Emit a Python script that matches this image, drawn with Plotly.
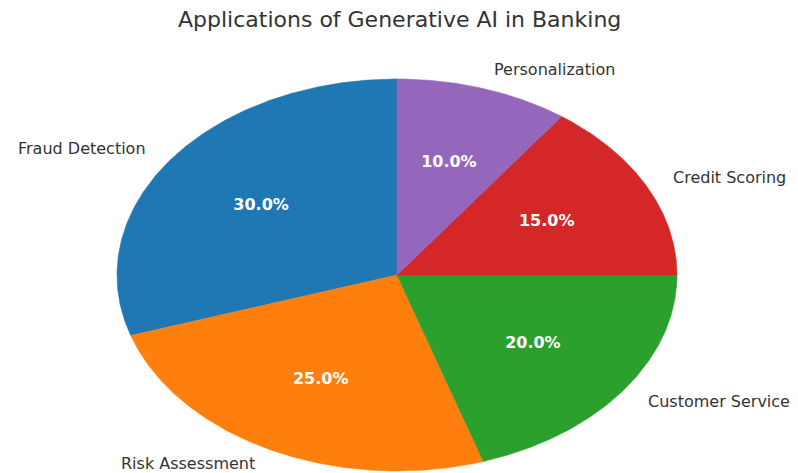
import numpy as np
import plotly.graph_objects as go

labels = ["Fraud Detection", "Risk Assessment", "Customer Service", "Credit Scoring", "Personalization"]
sizes = [30, 25, 20, 15, 10]
colors = ["#1f77b4", "#ff7f0e", "#2ca02c", "#d62728", "#9467bd"]
title = "Applications of Generative AI in Banking"

W, H = 798, 473
cx, cy, rx, ry = 397, 275, 280, 196  # pixel placement of the pie ellipse
LAB_SIZE = 16

fig = go.Figure()
total = float(sum(sizes))
theta0 = 90.0
annos = []
pct_x, pct_y, pct_t = [], [], []
for lab, val, col in zip(labels, sizes, colors):
    theta1 = theta0 + 360.0 * val / total
    t = np.radians(np.linspace(theta0, theta1, 200))
    xs = np.concatenate([[0], np.cos(t), [0]])
    ys = np.concatenate([[0], np.sin(t), [0]])
    fig.add_trace(go.Scatter(x=xs, y=ys, fill="toself", fillcolor=col,
                             line=dict(width=0.6, color=col), mode="lines",
                             hoverinfo="skip", showlegend=False))
    mid = np.radians((theta0 + theta1) / 2)
    lx, ly = 1.1 * np.cos(mid), 1.1 * np.sin(mid)
    # keep the label box inside the page
    py = cy - ly * ry
    overflow = (py + LAB_SIZE * 0.62) - H
    yshift = overflow if overflow > 0 else 0
    annos.append(dict(x=lx, y=ly, xref="x", yref="y", text=lab, showarrow=False,
                      xanchor="left" if lx > 0 else "right", yanchor="middle",
                      yshift=yshift,
                      font=dict(family="DejaVu Sans", size=LAB_SIZE, color="#333333")))
    pct_x.append(0.6 * np.cos(mid)); pct_y.append(0.6 * np.sin(mid))
    pct_t.append(f"<b>{100.0 * val / total:.1f}%</b>")
    theta0 = theta1

fig.add_trace(go.Scatter(x=pct_x, y=pct_y, mode="text", text=pct_t,
                         textposition="middle center",
                         textfont=dict(family="DejaVu Sans", size=16, color="white"),
                         hoverinfo="skip", showlegend=False))

annos.append(dict(text=title, x=0.5, y=1 - 19 / H, xref="paper", yref="paper",
                  xanchor="center", yanchor="middle", showarrow=False,
                  font=dict(family="DejaVu Sans", size=22, color="#333333")))

fig.update_layout(
    width=W, height=H,
    margin=dict(l=0, r=0, t=0, b=0),
    paper_bgcolor="white", plot_bgcolor="white",
    xaxis=dict(range=[-cx / rx, (W - cx) / rx], visible=False, fixedrange=True),
    yaxis=dict(range=[-(H - cy) / ry, cy / ry], visible=False, fixedrange=True),
    annotations=annos,
)

fig.write_html("out.html")
